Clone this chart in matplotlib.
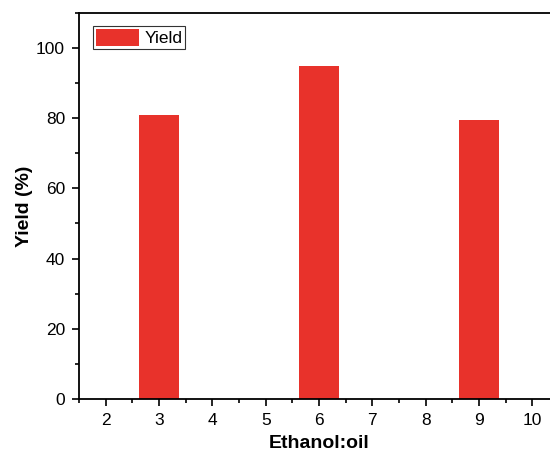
import matplotlib
matplotlib.use("Agg")
import matplotlib.pyplot as plt
from matplotlib.ticker import MultipleLocator

plt.rcParams["font.family"] = ["Liberation Sans", "DejaVu Sans"]

ratio = [3, 6, 9]
yield_pct = [80.9, 94.9, 79.4]
xticks = [2, 3, 4, 5, 6, 7, 8, 9, 10]

fig = plt.figure(figsize=(5.5, 4.57), dpi=100)
ax = fig.add_axes([0.1436, 0.127, 0.873, 0.845])

ax.bar(ratio, yield_pct, width=0.75, color="#e8322b", label="Yield")

ax.set_xlim(1.5, 10.5)
ax.set_ylim(0, 110)
ax.set_xticks(xticks)
ax.xaxis.set_minor_locator(MultipleLocator(0.5))
ax.yaxis.set_major_locator(MultipleLocator(20))
ax.yaxis.set_minor_locator(MultipleLocator(10))
ax.tick_params(which="both", direction="out", width=1.2, labelsize=12.5)
ax.tick_params(which="major", length=5, pad=5)
ax.tick_params(which="minor", length=3)
for s in ax.spines.values():
    s.set_linewidth(1.3)

ax.set_xlabel("Ethanol:oil", fontsize=14, fontweight="bold", labelpad=5)
ax.set_ylabel("Yield (%)", fontsize=14, fontweight="bold", labelpad=2)

leg = ax.legend(loc="upper left", fontsize=12.5, fancybox=False, edgecolor="black",
                handlelength=2.5, handleheight=1.2, borderpad=0.15,
                handletextpad=0.3, borderaxespad=0, bbox_to_anchor=(0.029, 0.966))
leg.get_frame().set_linewidth(0.8)

fig.savefig("out.png", dpi=100)
